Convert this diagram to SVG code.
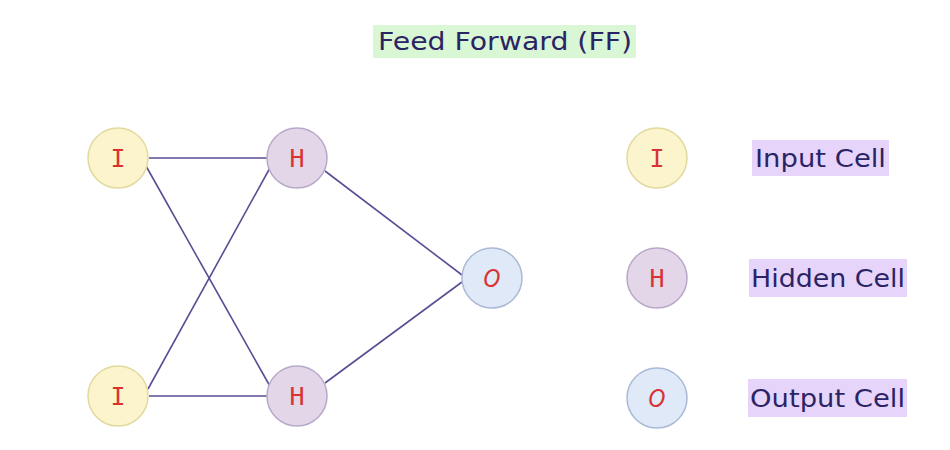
<svg xmlns="http://www.w3.org/2000/svg" width="950" height="450" viewBox="0 0 950 450">
<defs>
<style>
.cI{fill:#fbf4cc;stroke:#e2d99e;stroke-width:1.5}
.cH{fill:#e2d6e8;stroke:#b9a9c9;stroke-width:1.5}
.cO{fill:#dfe9f8;stroke:#aab9d6;stroke-width:1.5}
.lt{font-family:"DejaVu Sans Mono","Liberation Mono",monospace;font-size:25px;fill:#d93232;text-anchor:middle;dominant-baseline:central}
.lo{font-family:"DejaVu Sans","Liberation Sans",sans-serif;font-style:italic}
.lbl{font-family:"DejaVu Sans","Liberation Sans",sans-serif;font-size:24px;fill:#2b2464}
.hlP{fill:#e6d4fb}
.hlG{fill:#d9f7d4}
.edge{stroke:#5b4d94;stroke-width:1.6;fill:none}
</style>
</defs>
<rect width="950" height="450" fill="#ffffff"/>
<g id="title">
<rect class="hlG" x="373" y="25" width="263" height="33"/>
<text class="lbl" x="378" y="50" textLength="254" lengthAdjust="spacingAndGlyphs">Feed Forward (FF)</text>
</g>
<g id="connectors">
<line class="edge" x1="149" y1="158" x2="267" y2="158"/>
<line class="edge" x1="146" y1="166" x2="271" y2="388"/>
<line class="edge" x1="148" y1="389" x2="271" y2="166"/>
<line class="edge" x1="149" y1="396" x2="267" y2="396"/>
<line class="edge" x1="325" y1="171" x2="462" y2="275"/>
<line class="edge" x1="325" y1="383" x2="462" y2="282"/>
</g>
<g id="i1"><circle class="cI" cx="118" cy="158" r="30"/><text class="lt" x="118" y="158">I</text></g>
<g id="h1"><circle class="cH" cx="297" cy="158" r="30"/><text class="lt" x="297" y="158">H</text></g>
<g id="i2"><circle class="cI" cx="118" cy="396" r="30"/><text class="lt" x="118" y="396">I</text></g>
<g id="h2"><circle class="cH" cx="297" cy="396" r="30"/><text class="lt" x="297" y="396">H</text></g>
<g id="o1"><circle class="cO" cx="492" cy="278" r="30"/><text class="lt lo" x="492" y="278" textLength="17" lengthAdjust="spacingAndGlyphs">O</text></g>
<g id="legend-input">
<circle class="cI" cx="657" cy="158" r="30"/><text class="lt" x="657" y="158">I</text>
<rect class="hlP" x="752" y="140" width="137" height="36"/>
<text class="lbl" x="755" y="167" textLength="131" lengthAdjust="spacingAndGlyphs">Input Cell</text>
</g>
<g id="legend-hidden">
<circle class="cH" cx="657" cy="278" r="30"/><text class="lt" x="657" y="278">H</text>
<rect class="hlP" x="749" y="259" width="158" height="38"/>
<text class="lbl" x="751" y="287" textLength="154" lengthAdjust="spacingAndGlyphs">Hidden Cell</text>
</g>
<g id="legend-output">
<circle class="cO" cx="657" cy="398" r="30"/><text class="lt lo" x="657" y="398" textLength="17" lengthAdjust="spacingAndGlyphs">O</text>
<rect class="hlP" x="748" y="379" width="159" height="38"/>
<text class="lbl" x="750" y="407" textLength="155" lengthAdjust="spacingAndGlyphs">Output Cell</text>
</g>
</svg>
